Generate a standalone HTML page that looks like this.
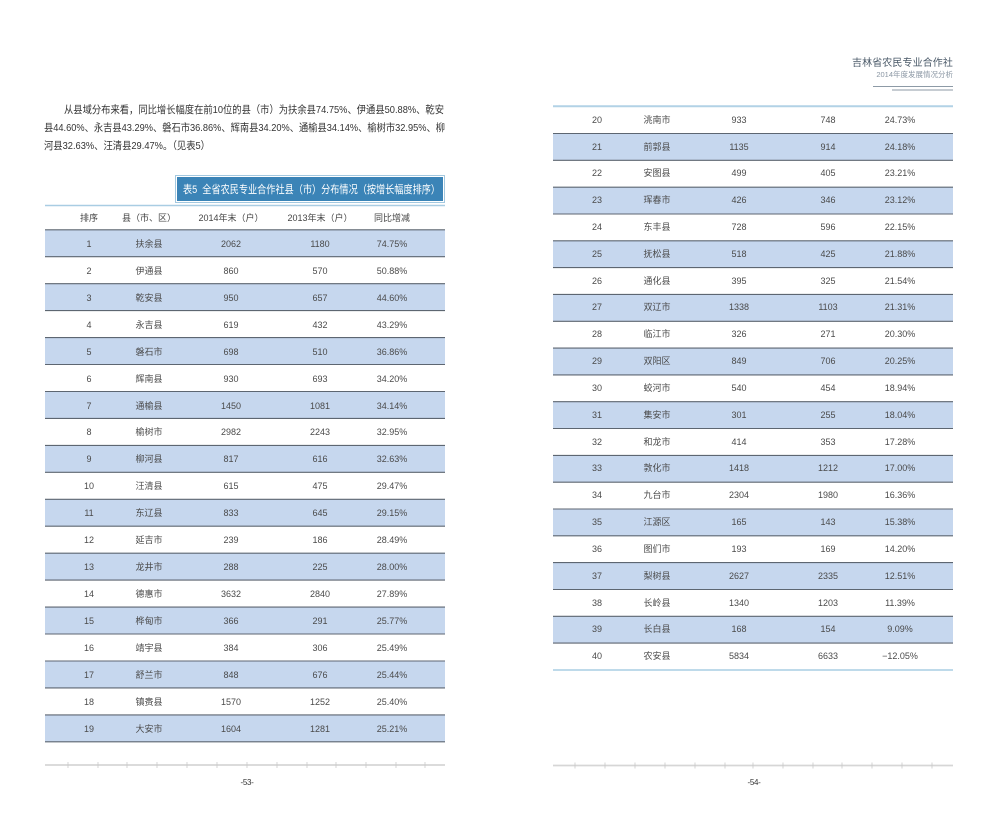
<!DOCTYPE html>
<html><head><meta charset="utf-8">
<style>
*{margin:0;padding:0;box-sizing:border-box}
html,body{width:1000px;height:825px;background:#fff;overflow:hidden}
body{position:relative;font-family:"Liberation Sans","Noto Sans CJK SC",sans-serif;color:#444}
.abs{position:absolute}
.fitbox{position:absolute;white-space:nowrap;overflow:visible}
.fit{display:inline-block;white-space:nowrap;transform-origin:0 50%}
.p{font-size:10.5px;line-height:18px;height:18px;color:#333}
.tbl{position:absolute;width:400px;top:0;height:825px}
.row{position:absolute;left:0;width:400px;font-size:9px;color:#4a4a4a}
.lr{height:27px;line-height:28px}
.rr{height:26.9px;line-height:27.6px}
.b{background:#c6d7ee}
.row span{position:absolute;top:0;width:90px;margin-left:-45px;text-align:center;white-space:nowrap}
.c1{left:44px}.c2{left:104px}.c3{left:186px}.c4{left:275px}.c5{left:347px}
.hdr{color:#444}
</style></head><body>

<!-- top right header -->
<div class="abs" style="right:47px;top:58px;font-size:10px;line-height:12px;color:#4a5968;white-space:nowrap;letter-spacing:0.1px;">吉林省农民专业合作社</div>
<div class="abs" style="right:47px;top:70px;font-size:7.5px;line-height:10px;color:#8a96a3;white-space:nowrap;">2014年度发展情况分析</div>

<!-- paragraph -->
<div class="fitbox p" style="left:64px;top:101px;width:380px;"><span class="fit">从县域分布来看，同比增长幅度在前10位的县（市）为扶余县74.75%、伊通县50.88%、乾安</span></div>
<div class="fitbox p" style="left:44px;top:119px;width:401px;"><span class="fit">县44.60%、永吉县43.29%、磐石市36.86%、辉南县34.20%、通榆县34.14%、榆树市32.95%、柳</span></div>
<div class="fitbox p" style="left:44px;top:137px;width:166px;"><span class="fit">河县32.63%、汪清县29.47%。（见表5）</span></div>

<!-- title box -->
<div class="abs" style="left:175px;top:175px;width:270px;height:28px;border:1px solid #a3c8df;background:#fff;padding:1px;">
  <div style="width:100%;height:100%;background:#3b84b7;"></div>
</div>
<div class="fitbox" style="left:183px;top:178px;width:257px;height:24px;line-height:24px;font-size:11px;color:#fff;"><span class="fit">表5&nbsp;&nbsp;全省农民专业合作社县（市）分布情况（按增长幅度排序）</span></div>

<!-- left table -->
<div class="tbl" style="left:45px;">
  <div class="row hdr" style="top:205.7px;height:24px;line-height:25px;"><span class="c1">排序</span><span class="c2">县（市、区）</span><span class="c3">2014年末（户）</span><span class="c4">2013年末（户）</span><span class="c5">同比增减</span></div>
  <div class="row lr b" style="top:229.8px"><span class="c1">1</span><span class="c2">扶余县</span><span class="c3">2062</span><span class="c4">1180</span><span class="c5">74.75%</span></div>
  <div class="row lr" style="top:256.7px"><span class="c1">2</span><span class="c2">伊通县</span><span class="c3">860</span><span class="c4">570</span><span class="c5">50.88%</span></div>
  <div class="row lr b" style="top:283.7px"><span class="c1">3</span><span class="c2">乾安县</span><span class="c3">950</span><span class="c4">657</span><span class="c5">44.60%</span></div>
  <div class="row lr" style="top:310.6px"><span class="c1">4</span><span class="c2">永吉县</span><span class="c3">619</span><span class="c4">432</span><span class="c5">43.29%</span></div>
  <div class="row lr b" style="top:337.6px"><span class="c1">5</span><span class="c2">磐石市</span><span class="c3">698</span><span class="c4">510</span><span class="c5">36.86%</span></div>
  <div class="row lr" style="top:364.5px"><span class="c1">6</span><span class="c2">辉南县</span><span class="c3">930</span><span class="c4">693</span><span class="c5">34.20%</span></div>
  <div class="row lr b" style="top:391.5px"><span class="c1">7</span><span class="c2">通榆县</span><span class="c3">1450</span><span class="c4">1081</span><span class="c5">34.14%</span></div>
  <div class="row lr" style="top:418.4px"><span class="c1">8</span><span class="c2">榆树市</span><span class="c3">2982</span><span class="c4">2243</span><span class="c5">32.95%</span></div>
  <div class="row lr b" style="top:445.4px"><span class="c1">9</span><span class="c2">柳河县</span><span class="c3">817</span><span class="c4">616</span><span class="c5">32.63%</span></div>
  <div class="row lr" style="top:472.3px"><span class="c1">10</span><span class="c2">汪清县</span><span class="c3">615</span><span class="c4">475</span><span class="c5">29.47%</span></div>
  <div class="row lr b" style="top:499.3px"><span class="c1">11</span><span class="c2">东辽县</span><span class="c3">833</span><span class="c4">645</span><span class="c5">29.15%</span></div>
  <div class="row lr" style="top:526.2px"><span class="c1">12</span><span class="c2">延吉市</span><span class="c3">239</span><span class="c4">186</span><span class="c5">28.49%</span></div>
  <div class="row lr b" style="top:553.2px"><span class="c1">13</span><span class="c2">龙井市</span><span class="c3">288</span><span class="c4">225</span><span class="c5">28.00%</span></div>
  <div class="row lr" style="top:580.1px"><span class="c1">14</span><span class="c2">德惠市</span><span class="c3">3632</span><span class="c4">2840</span><span class="c5">27.89%</span></div>
  <div class="row lr b" style="top:607.1px"><span class="c1">15</span><span class="c2">桦甸市</span><span class="c3">366</span><span class="c4">291</span><span class="c5">25.77%</span></div>
  <div class="row lr" style="top:634.0px"><span class="c1">16</span><span class="c2">靖宇县</span><span class="c3">384</span><span class="c4">306</span><span class="c5">25.49%</span></div>
  <div class="row lr b" style="top:661.0px"><span class="c1">17</span><span class="c2">舒兰市</span><span class="c3">848</span><span class="c4">676</span><span class="c5">25.44%</span></div>
  <div class="row lr" style="top:687.9px"><span class="c1">18</span><span class="c2">镇赉县</span><span class="c3">1570</span><span class="c4">1252</span><span class="c5">25.40%</span></div>
  <div class="row lr b" style="top:714.9px"><span class="c1">19</span><span class="c2">大安市</span><span class="c3">1604</span><span class="c4">1281</span><span class="c5">25.21%</span></div>
</div>

<!-- right table -->
<div class="tbl" style="left:553px;">
  <div class="row rr" style="top:106.7px"><span class="c1">20</span><span class="c2">洮南市</span><span class="c3">933</span><span class="c4">748</span><span class="c5">24.73%</span></div>
  <div class="row rr b" style="top:133.5px"><span class="c1">21</span><span class="c2">前郭县</span><span class="c3">1135</span><span class="c4">914</span><span class="c5">24.18%</span></div>
  <div class="row rr" style="top:160.3px"><span class="c1">22</span><span class="c2">安图县</span><span class="c3">499</span><span class="c4">405</span><span class="c5">23.21%</span></div>
  <div class="row rr b" style="top:187.2px"><span class="c1">23</span><span class="c2">珲春市</span><span class="c3">426</span><span class="c4">346</span><span class="c5">23.12%</span></div>
  <div class="row rr" style="top:214.0px"><span class="c1">24</span><span class="c2">东丰县</span><span class="c3">728</span><span class="c4">596</span><span class="c5">22.15%</span></div>
  <div class="row rr b" style="top:240.8px"><span class="c1">25</span><span class="c2">抚松县</span><span class="c3">518</span><span class="c4">425</span><span class="c5">21.88%</span></div>
  <div class="row rr" style="top:267.6px"><span class="c1">26</span><span class="c2">通化县</span><span class="c3">395</span><span class="c4">325</span><span class="c5">21.54%</span></div>
  <div class="row rr b" style="top:294.4px"><span class="c1">27</span><span class="c2">双辽市</span><span class="c3">1338</span><span class="c4">1103</span><span class="c5">21.31%</span></div>
  <div class="row rr" style="top:321.3px"><span class="c1">28</span><span class="c2">临江市</span><span class="c3">326</span><span class="c4">271</span><span class="c5">20.30%</span></div>
  <div class="row rr b" style="top:348.1px"><span class="c1">29</span><span class="c2">双阳区</span><span class="c3">849</span><span class="c4">706</span><span class="c5">20.25%</span></div>
  <div class="row rr" style="top:374.9px"><span class="c1">30</span><span class="c2">蛟河市</span><span class="c3">540</span><span class="c4">454</span><span class="c5">18.94%</span></div>
  <div class="row rr b" style="top:401.7px"><span class="c1">31</span><span class="c2">集安市</span><span class="c3">301</span><span class="c4">255</span><span class="c5">18.04%</span></div>
  <div class="row rr" style="top:428.5px"><span class="c1">32</span><span class="c2">和龙市</span><span class="c3">414</span><span class="c4">353</span><span class="c5">17.28%</span></div>
  <div class="row rr b" style="top:455.4px"><span class="c1">33</span><span class="c2">敦化市</span><span class="c3">1418</span><span class="c4">1212</span><span class="c5">17.00%</span></div>
  <div class="row rr" style="top:482.2px"><span class="c1">34</span><span class="c2">九台市</span><span class="c3">2304</span><span class="c4">1980</span><span class="c5">16.36%</span></div>
  <div class="row rr b" style="top:509.0px"><span class="c1">35</span><span class="c2">江源区</span><span class="c3">165</span><span class="c4">143</span><span class="c5">15.38%</span></div>
  <div class="row rr" style="top:535.8px"><span class="c1">36</span><span class="c2">图们市</span><span class="c3">193</span><span class="c4">169</span><span class="c5">14.20%</span></div>
  <div class="row rr b" style="top:562.6px"><span class="c1">37</span><span class="c2">梨树县</span><span class="c3">2627</span><span class="c4">2335</span><span class="c5">12.51%</span></div>
  <div class="row rr" style="top:589.5px"><span class="c1">38</span><span class="c2">长岭县</span><span class="c3">1340</span><span class="c4">1203</span><span class="c5">11.39%</span></div>
  <div class="row rr b" style="top:616.3px"><span class="c1">39</span><span class="c2">长白县</span><span class="c3">168</span><span class="c4">154</span><span class="c5">9.09%</span></div>
  <div class="row rr" style="top:643.1px"><span class="c1">40</span><span class="c2">农安县</span><span class="c3">5834</span><span class="c4">6633</span><span class="c5">−12.05%</span></div>
</div>

<!-- lines -->
<svg class="abs" style="left:0;top:0;" width="1000" height="825" viewBox="0 0 1000 825">
  <line x1="873" y1="86.5" x2="953" y2="86.5" stroke="#8d9aa6" stroke-width="1"/>
  <line x1="892" y1="90" x2="953" y2="90" stroke="#8d9aa6" stroke-width="1"/>
  <line x1="45" y1="205.5" x2="445" y2="205.5" stroke="#a9cde3" stroke-width="1.6"/>
  <g stroke="#5d6671" stroke-width="1.1">
    <line x1="45" y1="229.8" x2="445" y2="229.8"/>
    <line x1="45" y1="256.7" x2="445" y2="256.7"/>
    <line x1="45" y1="283.7" x2="445" y2="283.7"/>
    <line x1="45" y1="310.6" x2="445" y2="310.6"/>
    <line x1="45" y1="337.6" x2="445" y2="337.6"/>
    <line x1="45" y1="364.5" x2="445" y2="364.5"/>
    <line x1="45" y1="391.5" x2="445" y2="391.5"/>
    <line x1="45" y1="418.4" x2="445" y2="418.4"/>
    <line x1="45" y1="445.4" x2="445" y2="445.4"/>
    <line x1="45" y1="472.3" x2="445" y2="472.3"/>
    <line x1="45" y1="499.3" x2="445" y2="499.3"/>
    <line x1="45" y1="526.2" x2="445" y2="526.2"/>
    <line x1="45" y1="553.2" x2="445" y2="553.2"/>
    <line x1="45" y1="580.1" x2="445" y2="580.1"/>
    <line x1="45" y1="607.1" x2="445" y2="607.1"/>
    <line x1="45" y1="634.0" x2="445" y2="634.0"/>
    <line x1="45" y1="661.0" x2="445" y2="661.0"/>
    <line x1="45" y1="687.9" x2="445" y2="687.9"/>
    <line x1="45" y1="714.9" x2="445" y2="714.9"/>
    <line x1="45" y1="741.8" x2="445" y2="741.8"/>
  </g>
  <line x1="553" y1="106.2" x2="953" y2="106.2" stroke="#b2d2e6" stroke-width="2"/>
  <g stroke="#5d6671" stroke-width="1.1">
    <line x1="553" y1="133.5" x2="953" y2="133.5"/>
    <line x1="553" y1="160.3" x2="953" y2="160.3"/>
    <line x1="553" y1="187.2" x2="953" y2="187.2"/>
    <line x1="553" y1="214.0" x2="953" y2="214.0"/>
    <line x1="553" y1="240.8" x2="953" y2="240.8"/>
    <line x1="553" y1="267.6" x2="953" y2="267.6"/>
    <line x1="553" y1="294.4" x2="953" y2="294.4"/>
    <line x1="553" y1="321.3" x2="953" y2="321.3"/>
    <line x1="553" y1="348.1" x2="953" y2="348.1"/>
    <line x1="553" y1="374.9" x2="953" y2="374.9"/>
    <line x1="553" y1="401.7" x2="953" y2="401.7"/>
    <line x1="553" y1="428.5" x2="953" y2="428.5"/>
    <line x1="553" y1="455.4" x2="953" y2="455.4"/>
    <line x1="553" y1="482.2" x2="953" y2="482.2"/>
    <line x1="553" y1="509.0" x2="953" y2="509.0"/>
    <line x1="553" y1="535.8" x2="953" y2="535.8"/>
    <line x1="553" y1="562.6" x2="953" y2="562.6"/>
    <line x1="553" y1="589.5" x2="953" y2="589.5"/>
    <line x1="553" y1="616.3" x2="953" y2="616.3"/>
    <line x1="553" y1="643.1" x2="953" y2="643.1"/>
  </g>
  <line x1="553" y1="670" x2="953" y2="670" stroke="#a9cde3" stroke-width="1.6"/>
  <line x1="45" y1="765" x2="445" y2="765" stroke="#d6d6d6" stroke-width="1.8"/>
  <line x1="553" y1="765.5" x2="953" y2="765.5" stroke="#d6d6d6" stroke-width="1.8"/>
  <g stroke="#c9c9c9" stroke-width="0.8">
    <line x1="68" y1="762" x2="68" y2="768"/><line x1="98" y1="762" x2="98" y2="768"/>
    <line x1="127" y1="762" x2="127" y2="768"/><line x1="157" y1="762" x2="157" y2="768"/>
    <line x1="187" y1="762" x2="187" y2="768"/><line x1="217" y1="762" x2="217" y2="768"/>
    <line x1="247" y1="762" x2="247" y2="768"/><line x1="277" y1="762" x2="277" y2="768"/>
    <line x1="307" y1="762" x2="307" y2="768"/><line x1="336" y1="762" x2="336" y2="768"/>
    <line x1="366" y1="762" x2="366" y2="768"/><line x1="396" y1="762" x2="396" y2="768"/>
    <line x1="425" y1="762" x2="425" y2="768"/>
    <line x1="575" y1="762.5" x2="575" y2="768.5"/><line x1="605" y1="762.5" x2="605" y2="768.5"/>
    <line x1="635" y1="762.5" x2="635" y2="768.5"/><line x1="665" y1="762.5" x2="665" y2="768.5"/>
    <line x1="695" y1="762.5" x2="695" y2="768.5"/><line x1="725" y1="762.5" x2="725" y2="768.5"/>
    <line x1="753" y1="762.5" x2="753" y2="768.5"/><line x1="783" y1="762.5" x2="783" y2="768.5"/>
    <line x1="813" y1="762.5" x2="813" y2="768.5"/><line x1="842" y1="762.5" x2="842" y2="768.5"/>
    <line x1="872" y1="762.5" x2="872" y2="768.5"/><line x1="902" y1="762.5" x2="902" y2="768.5"/>
    <line x1="932" y1="762.5" x2="932" y2="768.5"/>
  </g>
</svg>

<!-- page numbers -->
<div class="abs" style="left:227px;top:777px;width:40px;text-align:center;font-size:8px;line-height:12px;color:#333;letter-spacing:-0.3px;">-53-</div>
<div class="abs" style="left:734px;top:777px;width:40px;text-align:center;font-size:8px;line-height:12px;color:#333;letter-spacing:-0.3px;">-54-</div>

<script>
(function(){
  var els=document.querySelectorAll('.fit');
  for(var i=0;i<els.length;i++){
    var el=els[i], box=el.parentNode;
    var tw=box.clientWidth, w=el.getBoundingClientRect().width;
    if(w>0&&tw>0){el.style.transform='scaleX('+(tw/w)+')';}
  }
})();
</script>
</body></html>
